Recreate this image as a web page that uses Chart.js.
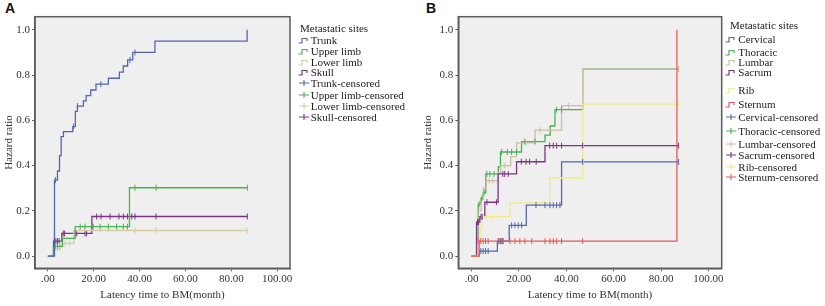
<!DOCTYPE html>
<html>
<head>
<meta charset="utf-8">
<script src="https://cdn.jsdelivr.net/npm/chart.js@4.4.1/dist/chart.umd.min.js"></script>
<style>
  body { margin: 0; background: #fff; width: 825px; height: 306px; position: relative; overflow: hidden; font-family: "Liberation Serif", "Times New Roman", serif; }
  canvas { position: absolute; top: 0; }
  #cA { left: 0; }
  #cB { left: 420px; }
  .tag { position: absolute; font: bold 14px "Liberation Sans", Arial, sans-serif; color: #111; }
  .lg { position: absolute; font-size: 11px; line-height: 12px; color: #222; white-space: nowrap; }
  .lg svg { position: absolute; }
</style>
</head>
<body>
<div class="tag" style="left:5px;top:0px">A</div>
<div class="tag" style="left:426px;top:0px">B</div>
<canvas id="cA" width="420" height="306"></canvas>
<canvas id="cB" width="405" height="306"></canvas>
<div id="legA"></div>
<div id="legB"></div>
<script>
// ---- panel A: cumulative hazard by site (limbs / trunk / skull)
const trunkT = [0, 2.9, 4.2, 5.1, 5.8, 6.8, 10.9, 12.0, 12.9, 15.5, 16.7, 18.7, 21.0, 26.4, 31.2, 32.9, 34.8, 37.0, 46.7, 86.9];
const trunkH = [0, 0.336, 0.376, 0.444, 0.528, 0.55, 0.572, 0.64, 0.663, 0.686, 0.709, 0.734, 0.76, 0.786, 0.813, 0.84, 0.867, 0.90, 0.95, 1.0];
const trunkCensT = [3.3, 11.2, 12.9, 23.1, 35.8, 38.0];
const trunkCensH = [0.336, 0.572, 0.663, 0.76, 0.867, 0.90];

const upperT = [0, 2.4, 6.4, 11.9, 35.6, 87.0];
const upperH = [0, 0.043, 0.078, 0.13, 0.302, 0.302];
const upperCensT = [3.2, 4.2, 5.2, 14.1, 16.2, 19.8, 22.8, 26.4, 30.0, 32.9, 34.7, 38.0, 47.2, 87.0];
const upperCensH = [0.043, 0.043, 0.043, 0.13, 0.13, 0.13, 0.13, 0.13, 0.13, 0.13, 0.13, 0.302, 0.302, 0.302];

const lowerT = [0, 2.8, 5.3, 11.3, 87.0];
const lowerH = [0, 0.027, 0.056, 0.113, 0.113];
const lowerCensT = [7.5, 9.5, 38.0, 47.2, 87.0];
const lowerCensH = [0.056, 0.056, 0.113, 0.113, 0.113];

const skullT = [0, 2.5, 6.1, 19.2, 87.0];
const skullH = [0, 0.066, 0.10, 0.175, 0.175];
const skullCensT = [2.8, 3.5, 4.2, 4.9, 6.7, 7.3, 11.9, 12.6, 16.2, 16.9, 21.3, 23.2, 27.1, 31.0, 32.9, 34.7, 36.6, 38.0, 47.2, 87.0];
const skullCensH = [0.066, 0.066, 0.066, 0.066, 0.10, 0.10, 0.10, 0.10, 0.10, 0.10, 0.175, 0.175, 0.175, 0.175, 0.175, 0.175, 0.175, 0.175, 0.175, 0.175];

// ---- panel B: spine / rib / sternum
const cervT = [0, 3.2, 10.9, 15.9, 23.1, 38.0, 87.4];
const cervH = [0, 0.022, 0.066, 0.136, 0.225, 0.416, 0.416];
const cervCensT = [3.9, 4.9, 5.9, 7.0, 11.5, 12.2, 13.0, 16.9, 18.3, 19.7, 21.1, 27.2, 31.0, 33.1, 34.5, 35.9, 37.3, 46.9, 87.4];
const cervCensH = [0.022, 0.022, 0.022, 0.022, 0.066, 0.066, 0.066, 0.136, 0.136, 0.136, 0.136, 0.225, 0.225, 0.225, 0.225, 0.225, 0.225, 0.416, 0.416];

const thorT = [0, 2.8, 3.9, 4.9, 6.0, 11.3, 12.2, 21.1, 31.0, 33.2, 35.2, 46.9, 87.4];
const thorH = [0, 0.23, 0.255, 0.28, 0.363, 0.395, 0.46, 0.506, 0.535, 0.575, 0.647, 0.826, 0.826];
const thorCensT = [3.2, 4.3, 5.3, 6.5, 7.7, 9.5, 12.7, 15.1, 16.9, 19.0, 22.5, 26.8, 35.9, 38.0, 87.4];
const thorCensH = [0.23, 0.255, 0.28, 0.363, 0.363, 0.363, 0.46, 0.46, 0.46, 0.46, 0.506, 0.506, 0.647, 0.647, 0.826];

const lumbT = [0, 2.6, 4.0, 5.0, 6.2, 11.3, 12.3, 16.5, 19.0, 26.8, 38.0, 46.9, 87.4];
const lumbH = [0, 0.2, 0.25, 0.3, 0.333, 0.37, 0.40, 0.44, 0.50, 0.557, 0.665, 0.826, 0.826];
const lumbCensT = [7.5, 9.0, 14.0, 23.0, 29.0, 41.0, 87.4];
const lumbCensH = [0.333, 0.333, 0.40, 0.50, 0.557, 0.665, 0.826];

const sacrT = [0, 2.1, 3.5, 5.6, 11.2, 19.0, 31.0, 87.4];
const sacrH = [0, 0.15, 0.174, 0.238, 0.363, 0.417, 0.488, 0.488];
const sacrCensT = [2.5, 3.0, 4.0, 4.5, 6.5, 10.5, 13.2, 14.0, 15.5, 21.0, 23.0, 24.5, 27.3, 33.0, 34.5, 35.9, 38.0, 46.9, 87.4];
const sacrCensH = [0.15, 0.15, 0.174, 0.174, 0.238, 0.238, 0.363, 0.363, 0.363, 0.417, 0.417, 0.417, 0.417, 0.488, 0.488, 0.488, 0.488, 0.488, 0.488];

const ribT = [0, 2.8, 3.5, 4.3, 16.2, 33.0, 47.0, 87.4];
const ribH = [0, 0.06, 0.12, 0.174, 0.235, 0.345, 0.672, 0.672];
const ribCensT = [5.0, 6.5, 9.0, 11.0, 87.4];
const ribCensH = [0.174, 0.174, 0.174, 0.174, 0.672];

const sternT = [0, 3.2, 86.7];
const sternH = [0, 0.066, 1.0];
const sternCensT = [2.8, 3.9, 4.9, 5.9, 7.0, 11.2, 12.0, 12.7, 13.4, 16.2, 18.3, 20.4, 22.5, 25.4, 31.0, 33.1, 34.5, 35.9, 38.0, 46.9];
const sternCensH = sternCensT.map(() => 0.066);

// axis ticks
const xTicks = [0, 20, 40, 60, 80, 100];
const yTicks = [0, 0.2, 0.4, 0.6, 0.8, 1.0];

// legend labels
const sitesA = ['Trunk', 'Upper limb', 'Lower limb', 'Skull'];
const sitesB = ['Cervical', 'Thoracic', 'Lumbar', 'Sacrum', 'Rib', 'Sternum'];

const BLUE = '#5366b3', GREEN = '#4cae55', BEIGE = '#d8cba8', PURPLE = '#7a3683', YELLOW = '#efea8a', RED = '#e45a5a';
const colorsA = [BLUE, GREEN, BEIGE, PURPLE];
const colorsB = [BLUE, GREEN, '#cdbfa2', PURPLE, YELLOW, RED];

Chart.defaults.font.family = '"Liberation Serif", "Times New Roman", serif';
Chart.defaults.font.size = 11;
Chart.defaults.color = '#333';

function pts(t, h) { return t.map((x, i) => ({ x: x, y: h[i] })); }

function stepSet(label, t, h, color) {
  return { label: label, data: pts(t, h), borderColor: color, borderWidth: 1.3, stepped: true, pointRadius: 0, fill: false };
}
function censSet(label, t, h, color) {
  return { label: label + '-censored', data: pts(t, h), borderColor: color, backgroundColor: color, showLine: false,
           pointStyle: 'line', rotation: 90, pointRadius: 3, borderWidth: 1 };
}

const plotBox = {
  id: 'plotBox',
  beforeDraw(chart) {
    const a = chart.chartArea, ctx = chart.ctx;
    ctx.save();
    ctx.fillStyle = '#efefef';
    ctx.fillRect(a.left, a.top, a.right - a.left, a.bottom - a.top);
    ctx.restore();
  },
  afterDraw(chart) {
    const a = chart.chartArea, ctx = chart.ctx;
    ctx.save();
    ctx.strokeStyle = '#5c5c5c';
    ctx.lineWidth = 1.5;
    ctx.strokeRect(a.left, a.top, a.right - a.left, a.bottom - a.top);
    ctx.restore();
  }
};

function makeChart(id, datasets, pad, yWidth, yTitlePad) {
  return new Chart(document.getElementById(id), {
    type: 'line',
    data: { datasets: datasets },
    options: {
      responsive: false,
      animation: false,
      layout: { padding: pad },
      plugins: { legend: { display: false }, tooltip: { enabled: false } },
      scales: {
        x: {
          type: 'linear', min: -5.6, max: 105.6,
          afterBuildTicks: s => { s.ticks = xTicks.map(v => ({ value: v })); },
          afterFit: s => { s.height = 306 - 268.3 - pad.bottom; },
          ticks: { padding: 1, maxRotation: 0, callback: v => v === 0 ? '.00' : v.toFixed(2) },
          grid: { drawOnChartArea: false, drawTicks: true, tickLength: 3, color: '#5c5c5c' },
          border: { display: true, color: '#5c5c5c', width: 1.5 },
          title: { display: true, text: 'Latency time to BM(month)', padding: { top: 0, bottom: 4 } }
        },
        y: {
          min: -0.054, max: 1.058,
          afterBuildTicks: s => { s.ticks = yTicks.map(v => ({ value: v })); },
          afterFit: s => { s.width = yWidth; },
          ticks: { padding: 2, callback: v => v.toFixed(1) },
          grid: { drawOnChartArea: false, drawTicks: true, tickLength: 3, color: '#5c5c5c' },
          border: { display: true, color: '#5c5c5c', width: 1.5 },
          title: { display: true, text: 'Hazard ratio', padding: { top: yTitlePad, bottom: 0 } }
        }
      }
    },
    plugins: [plotBox]
  });
}

const tA = [trunkT, upperT, lowerT, skullT], hA = [trunkH, upperH, lowerH, skullH];
const ctA = [trunkCensT, upperCensT, lowerCensT, skullCensT], chA = [trunkCensH, upperCensH, lowerCensH, skullCensH];
const dsA = [];
sitesA.forEach((s, i) => dsA.push(stepSet(s, tA[i], hA[i], colorsA[i])));
sitesA.forEach((s, i) => dsA.push(censSet(s, ctA[i], chA[i], colorsA[i])));

const tB = [cervT, thorT, lumbT, sacrT, ribT, sternT], hB = [cervH, thorH, lumbH, sacrH, ribH, sternH];
const ctB = [cervCensT, thorCensT, lumbCensT, sacrCensT, ribCensT, sternCensT], chB = [cervCensH, thorCensH, lumbCensH, sacrCensH, ribCensH, sternCensH];
const dsB = [];
sitesB.forEach((s, i) => dsB.push(stepSet(s, tB[i], hB[i], colorsB[i])));
sitesB.forEach((s, i) => dsB.push(censSet(s, ctB[i], chB[i], colorsB[i])));
dsB.reverse(); // sternum drawn on top like the original

makeChart('cA', dsA, { left: 0, top: 16.7, right: 130, bottom: 0 }, 35, 2.1);
makeChart('cB', dsB, { left: 0, top: 16.7, right: 103.3, bottom: 0 }, 38.3, 1.7);

// ---- legends (HTML, SPSS-like)
function stepIcon(c) {
  return '<svg width="12" height="7" style="left:-13px;top:3px"><path d="M0.5,6 H4 V1.5 H9 V4" fill="none" stroke="' + c + '" stroke-width="1.2"/></svg>';
}
function crossIcon(c) {
  return '<svg width="12" height="8" style="left:-13px;top:2px"><path d="M1,4 H11 M6,1 V7" fill="none" stroke="' + c + '" stroke-width="1.1"/></svg>';
}
function buildLegend(el, titleX, titleY, textX, rows, labels, colors) {
  let html = '<div class="lg" style="left:' + titleX + 'px;top:' + (titleY - 6) + 'px">Metastatic sites</div>';
  const n = labels.length;
  labels.forEach((s, i) => {
    html += '<div class="lg" style="left:' + textX + 'px;top:' + (rows[i] - 6) + 'px">' + stepIcon(colors[i]) + s + '</div>';
  });
  labels.forEach((s, i) => {
    html += '<div class="lg" style="left:' + textX + 'px;top:' + (rows[n + i] - 6) + 'px">' + crossIcon(colors[i]) + s + '-censored</div>';
  });
  document.getElementById(el).innerHTML = html;
}
const rowsA = [40, 51.3, 61.7, 72.3, 83.3, 95.3, 106, 116.7];
const rowsB = [39, 51.7, 61.7, 71.7, 90, 104, 117.3, 130.7, 144.3, 155, 166.7, 176.7];
buildLegend('legA', 300, 28, 310.7, rowsA, sitesA, colorsA);
buildLegend('legB', 730, 25, 738.3, rowsB, sitesB, colorsB);
</script>
</body>
</html>
